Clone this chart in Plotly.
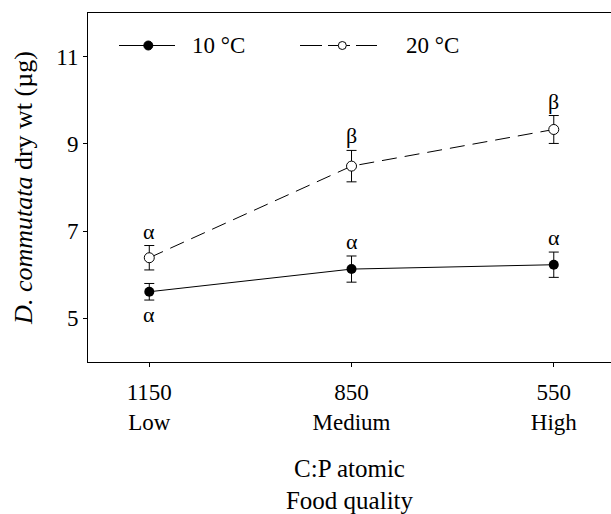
import plotly.graph_objects as go

# ---- data ----
cp_ratio = ["1150", "850", "550"]
quality = ["Low", "Medium", "High"]
x_idx = [0, 1, 2]

wt_10 = [5.61, 6.13, 6.23]
err_10 = [0.19, 0.30, 0.29]
wt_20 = [6.39, 8.49, 9.33]
err_20 = [0.28, 0.36, 0.32]

letters_10 = ["α", "α", "α"]
letters_10_above = [False, True, True]
letters_20 = ["α", "β", "β"]

series_names = ["10 °C", "20 °C"]

FONT = "Liberation Serif, Times New Roman, serif"

# plot-area geometry in pixels (for the hand-drawn legend)
L, T, W, H = 88, 13, 523, 349
def px(x):
    return (x - L) / W
def py(y):
    return (T + H - y) / H

fig = go.Figure()
fig.add_trace(go.Scatter(
    x=x_idx, y=wt_10, name=series_names[0], mode="lines+markers",
    line=dict(color="black", width=1),
    marker=dict(symbol="circle", size=10, color="black"),
    error_y=dict(type="data", array=err_10, color="black", thickness=1, width=5),
    showlegend=False,
))
fig.add_trace(go.Scatter(
    x=x_idx, y=wt_20, name=series_names[1], mode="lines+markers",
    line=dict(color="black", width=1, dash="15px,8px"),
    marker=dict(symbol="circle", size=10, color="white", line=dict(color="black", width=1)),
    error_y=dict(type="data", array=err_20, color="black", thickness=1, width=5),
    showlegend=False,
))

annots = []
lf = dict(family=FONT, size=22, color="black")
for i in range(3):
    annots.append(dict(x=x_idx[i], y=wt_20[i] + err_20[i], text=letters_20[i],
                       showarrow=False, yanchor="bottom", yshift=0, font=lf))
    if letters_10_above[i]:
        annots.append(dict(x=x_idx[i], y=wt_10[i] + err_10[i], text=letters_10[i],
                           showarrow=False, yanchor="bottom", yshift=0, font=lf))
    else:
        annots.append(dict(x=x_idx[i], y=wt_10[i] - err_10[i], text=letters_10[i],
                           showarrow=False, yanchor="top", yshift=0, font=lf))

# hand-drawn legend
leg_y = 45.5
shapes = [
    dict(type="line", xref="paper", yref="paper", x0=px(119), x1=px(175), y0=py(leg_y), y1=py(leg_y),
         line=dict(color="black", width=1)),
    dict(type="circle", xref="paper", yref="paper", xsizemode="pixel", ysizemode="pixel",
         xanchor=px(148.3), yanchor=py(leg_y), x0=-4.5, x1=4.5, y0=-4.5, y1=4.5,
         fillcolor="black", line=dict(color="black", width=1)),
    dict(type="line", xref="paper", yref="paper", x0=px(300), x1=px(377), y0=py(leg_y), y1=py(leg_y),
         line=dict(color="black", width=1, dash="22px,6px")),
    dict(type="circle", xref="paper", yref="paper", xsizemode="pixel", ysizemode="pixel",
         xanchor=px(342.3), yanchor=py(leg_y), x0=-4, x1=4, y0=-4, y1=4,
         fillcolor="white", line=dict(color="black", width=1)),
]
annots.append(dict(xref="paper", yref="paper", x=px(190), y=py(leg_y), text=series_names[0],
                   xanchor="left", yanchor="middle", showarrow=False,
                   font=dict(family=FONT, size=23, color="black")))
annots.append(dict(xref="paper", yref="paper", x=px(404), y=py(leg_y), text=series_names[1],
                   xanchor="left", yanchor="middle", showarrow=False,
                   font=dict(family=FONT, size=23, color="black")))

fig.update_layout(
    width=611, height=514,
    margin=dict(l=L, r=611 - L - W, t=T, b=514 - T - H),
    paper_bgcolor="white", plot_bgcolor="white",
    font=dict(family=FONT, size=23, color="black"),
    showlegend=False,
    annotations=annots,
    shapes=shapes,
)
fig.update_xaxes(
    range=[-0.303, 2.283], tickvals=x_idx,
    ticktext=[f"{c}<br>{q}" for c, q in zip(cp_ratio, quality)],
    showline=True, linecolor="black", linewidth=1, mirror=True,
    ticks="outside", ticklen=4, tickcolor="black", showgrid=False, zeroline=False,
    tickfont=dict(family=FONT, size=23), ticklabelstandoff=5, automargin=False,
    title=dict(text="C:P atomic<br>Food quality", font=dict(family=FONT, size=25), standoff=34),
)
fig.update_yaxes(
    range=[4, 12], tickvals=[5, 7, 9, 11],
    showline=True, linecolor="black", linewidth=1, mirror=False,
    ticks="outside", ticklen=4, tickcolor="black", showgrid=False, zeroline=False,
    tickfont=dict(family=FONT, size=23), automargin=False,
    title=dict(text="<i>D. commutata</i> dry wt (µg)", font=dict(family=FONT, size=26), standoff=16),
)
fig.write_html("out.html")
